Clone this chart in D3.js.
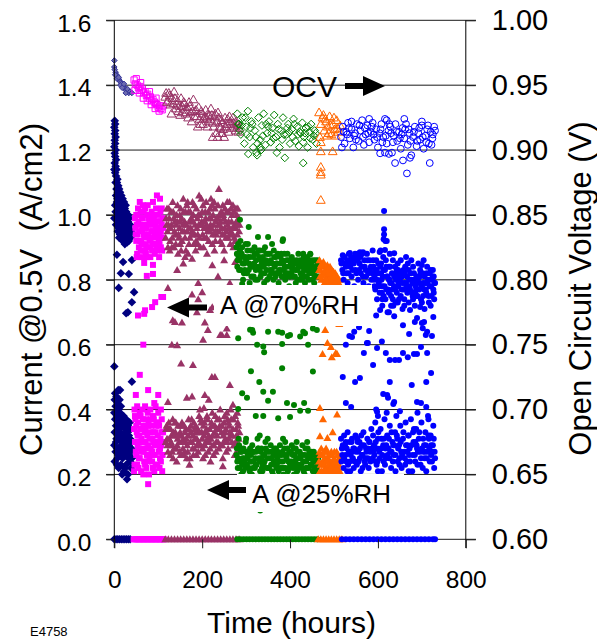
<!DOCTYPE html>
<html>
<head>
<meta charset="utf-8">
<script src="https://cdn.jsdelivr.net/npm/d3@7/dist/d3.min.js"></script>
<style>
  body { margin: 0; background: #fff; }
  svg { display: block; }
  text { font-family: "Liberation Sans", Arial, Helvetica, sans-serif; fill: #000; }
</style>
</head>
<body>
<svg id="chart" width="597" height="639"></svg>
<script>
// ---------------- data: [hours, current A/cm2] and [hours, OCV V] ----------------
const currentTicks = [0, 0.2, 0.4, 0.6, 0.8, 1.0, 1.2, 1.4, 1.6];
const ocvTicks = [0.60, 0.65, 0.70, 0.75, 0.80, 0.85, 0.90, 0.95, 1.00];
const timeTicks = [0, 200, 400, 600, 800];

// segment 1 (navy)
const navyHigh = [[1,1.29],[2,1.28],[0,1.27],[2,1.26],[1,1.25],[3,1.24],[1,1.23],[2,1.22],[0,1.21],[3,1.20],[1,1.19],[2,1.18],[4,1.17],[1,1.16],[3,1.15],[0,1.14],[5,1.14],[2,1.13],[4,1.12],[7,1.11],[3,1.10],[6,1.10],[9,1.09],[5,1.08],[11,1.08],[8,1.07],[13,1.07],[4,1.06],[10,1.06],[16,1.06],[7,1.05],[14,1.05],[19,1.05],[12,1.04],[17,1.04],[22,1.04],[6,1.03],[15,1.03],[20,1.03],[9,1.02],[18,1.02],[24,1.02],[3,1.01],[11,1.01],[21,1.01],[27,1.01],[0,0.99],[14,1.00],[23,1.00],[29,0.99],[8,0.99],[17,0.99],[25,0.98],[12,0.98],[20,0.98],[31,0.98],[15,0.97],[27,0.97],[10,0.96],[22,0.96],[33,0.96],[18,0.95],[29,0.95],[13,0.94],[25,0.94],[35,0.95],[21,0.93],[31,0.93],[16,0.93],[27,0.92],[24,0.91],[33,0.92],[19,0.92],[29,0.915],[6,1.04],[9,1.00],[12,0.96],[15,1.01],[18,0.97],[21,0.99],[24,0.95],[27,0.99],[30,0.96],[33,0.94],[36,0.97],[38,0.95],[34,0.99],[26,1.03],[19,0.94],[11,0.93],[8,0.95],[4,0.97],[2,1.03],[7,1.08],[23,0.925],[28,0.925],[37,0.93],[32,1.00],[16,0.99]];
const navyMid = [[6,0.877],[20,0.855],[40,0.861],[15,0.82],[33,0.818],[10,0.775],[45,0.762],[40,0.731],[31,0.70],[27,0.697],[0,0.533],[40,0.486],[13,0.46]];
const navyLow = [[2,0.45],[5,0.44],[9,0.46],[1,0.43],[7,0.42],[12,0.43],[3,0.41],[10,0.40],[15,0.41],[0,0.39],[6,0.38],[13,0.39],[18,0.38],[2,0.37],[9,0.36],[16,0.37],[22,0.36],[27,0.37],[4,0.35],[11,0.34],[20,0.35],[25,0.34],[30,0.35],[35,0.36],[1,0.33],[8,0.32],[14,0.33],[23,0.32],[28,0.33],[33,0.32],[38,0.34],[5,0.31],[17,0.30],[26,0.31],[31,0.30],[36,0.31],[0,0.29],[10,0.28],[21,0.29],[29,0.28],[34,0.28],[40,0.30],[3,0.27],[13,0.26],[24,0.27],[37,0.27],[7,0.25],[19,0.25],[32,0.25],[1,0.24],[15,0.23],[27,0.23],[36,0.24],[10,0.22],[22,0.21],[31,0.20],[18,0.20],[29,0.185],[25,0.22],[38,0.22],[40,0.25],[6,0.28],[4,0.30],[8,0.39],[12,0.35],[16,0.29],[20,0.32],[24,0.30],[28,0.36],[32,0.29],[36,0.34],[3,0.33],[11,0.31],[19,0.27],[26,0.26],[34,0.26],[39,0.28],[6,0.23],[14,0.28],[21,0.38],[30,0.32],[9,0.26]];
const navyZero = [0,4,8,12,16,20,24,28,32,36];
const navyOcv = [[0,0.969],[0,0.964],[1,0.962],[3,0.960],[5,0.958],[7,0.957],[9,0.955],[11,0.954],[13,0.953],[15,0.952],[17,0.951],[19,0.950],[21,0.949],[23,0.948],[25,0.947],[27,0.946],[29,0.945],[31,0.945],[33,0.944],[2,0.958],[6,0.955],[10,0.956],[14,0.950],[18,0.948],[22,0.951],[26,0.944],[30,0.947],[36,0.945],[40,0.944]];

// segment 2 (magenta)
const magHigh = [[50,1.00],[55,0.98],[60,1.01],[65,0.99],[70,1.02],[75,1.00],[80,0.98],[85,1.01],[90,0.99],[95,1.02],[100,1.00],[105,0.98],[48,0.96],[53,0.94],[58,0.97],[63,0.95],[68,0.93],[73,0.96],[78,0.94],[83,0.97],[88,0.95],[93,0.93],[98,0.96],[103,0.94],[108,0.97],[50,0.92],[56,0.90],[61,0.92],[66,0.89],[71,0.91],[76,0.90],[81,0.92],[86,0.89],[91,0.91],[96,0.90],[101,0.92],[106,0.90],[110,0.93],[52,0.88],[62,0.87],[72,0.88],[82,0.87],[92,0.88],[102,0.87],[97,1.06],[104,1.05],[58,1.04],[76,1.03],[88,1.04],[108,1.02],[64,0.96],[84,0.93],[94,0.97],[54,1.02],[69,0.97],[79,0.99],[99,0.98],[110,0.99],[47,0.99],[60,0.89],[74,0.87],[90,1.00],[106,0.95],[67,1.01],[49,0.94],[51,0.97],[57,0.95],[59,0.92],[63,0.99],[67,0.94],[71,0.96],[73,0.90],[77,0.97],[80,0.93],[83,1.00],[85,0.95],[87,0.91],[89,0.97],[92,0.94],[95,0.91],[97,0.98],[100,0.95],[103,0.91],[105,1.01],[107,0.93],[109,0.89],[111,0.96],[53,1.00],[65,1.03],[75,0.94],[85,0.98],[95,0.96],[105,0.93],[62,0.91],[70,0.89],[82,0.90],[98,0.89]];
const magMid = [[68,0.852],[88,0.846],[74,0.812],[51,0.87],[107,0.747],[93,0.731],[86,0.716],[70,0.706],[54,0.69],[66,0.60],[58,0.507],[49,0.445],[77,0.46],[100,0.445],[91,0.42],[88,0.818],[111,0.747],[68,0.695]];
const magLow = [[46,0.40],[52,0.41],[58,0.39],[64,0.40],[70,0.41],[76,0.39],[82,0.40],[88,0.38],[94,0.41],[100,0.39],[106,0.40],[48,0.37],[54,0.36],[60,0.38],[66,0.35],[72,0.37],[78,0.36],[84,0.35],[90,0.37],[96,0.36],[102,0.35],[108,0.37],[45,0.34],[51,0.33],[57,0.32],[63,0.34],[69,0.33],[75,0.32],[81,0.33],[87,0.31],[93,0.33],[99,0.32],[105,0.31],[111,0.33],[47,0.30],[53,0.29],[59,0.30],[65,0.28],[71,0.30],[77,0.29],[83,0.28],[89,0.30],[95,0.29],[101,0.27],[107,0.29],[50,0.26],[56,0.25],[62,0.27],[68,0.24],[74,0.26],[80,0.25],[86,0.24],[92,0.26],[98,0.23],[104,0.25],[110,0.26],[46,0.23],[55,0.22],[61,0.21],[73,0.22],[79,0.20],[91,0.21],[103,0.22],[109,0.21],[66,0.20],[77,0.17],[45,0.21],[47,0.38],[50,0.35],[53,0.32],[56,0.28],[59,0.34],[62,0.31],[65,0.37],[68,0.30],[71,0.34],[74,0.28],[77,0.35],[80,0.31],[83,0.37],[86,0.27],[89,0.33],[92,0.29],[95,0.35],[98,0.30],[101,0.36],[104,0.28],[107,0.33],[110,0.30],[49,0.27],[58,0.25],[67,0.27],[76,0.24],[85,0.26],[94,0.23],[103,0.27],[52,0.23],[70,0.23],[88,0.22],[106,0.24]];
const magZero = [44,47,50,53,56,59,62,65,68,71,74,77,80,83,86,89,92,95,98,101,104,107,110,113];
const magOcv = [[45,0.954],[48,0.951],[52,0.950],[55,0.948],[58,0.949],[61,0.946],[64,0.947],[67,0.944],[70,0.945],[73,0.942],[76,0.943],[79,0.940],[82,0.941],[85,0.938],[88,0.939],[91,0.937],[94,0.936],[97,0.935],[100,0.933],[103,0.934],[106,0.932],[109,0.931],[47,0.946],[57,0.944],[66,0.940],[75,0.938],[84,0.935],[93,0.932],[102,0.930],[111,0.934],[50,0.955],[60,0.952],[80,0.945],[95,0.940]];

// segment 3 (maroon)
const marHigh = [[118,0.99],[121,0.95],[124,1.02],[127,0.92],[130,0.97],[133,1.04],[136,0.90],[139,0.94],[142,1.00],[145,0.88],[148,0.96],[151,1.02],[154,0.92],[157,1.05],[160,0.98],[163,0.89],[166,0.95],[169,1.01],[172,0.93],[175,0.99],[178,1.04],[181,0.91],[184,0.97],[187,1.02],[190,0.94],[193,1.06],[196,0.90],[199,0.98],[202,1.03],[205,0.93],[208,0.99],[211,0.88],[214,1.01],[217,0.95],[220,1.05],[223,0.91],[226,0.97],[229,1.02],[232,0.94],[235,0.99],[238,1.08],[241,0.92],[244,0.96],[247,1.03],[250,0.89],[253,0.98],[256,1.01],[259,0.93],[262,1.04],[265,0.95],[268,1.00],[271,0.90],[274,0.97],[277,1.02],[280,0.94],[283,0.99],[120,1.02],[126,0.89],[132,0.93],[138,0.98],[144,1.03],[150,0.91],[156,0.97],[162,1.01],[168,0.88],[174,0.96],[180,1.00],[186,0.92],[192,0.97],[198,1.05],[204,0.96],[210,0.93],[216,0.99],[222,1.03],[228,0.89],[234,0.95],[240,1.00],[246,0.94],[252,1.02],[258,0.97],[264,0.91],[270,1.03],[276,0.96],[282,0.91],[123,0.97],[135,0.99],[147,0.93],[159,0.95],[171,0.98],[183,0.94],[195,1.00],[207,1.01],[219,0.97],[231,0.98],[243,1.01],[255,0.95],[267,0.98],[279,1.00],[129,1.01],[141,0.97],[153,0.99],[165,1.03],[177,0.95],[189,0.99],[201,0.94],[213,0.96],[225,1.00],[237,0.97],[249,0.99],[261,0.96],[273,0.93],[285,0.97],[117,0.93],[119,0.97],[122,0.90],[125,0.99],[128,0.96],[131,0.90],[134,1.01],[137,0.95],[140,0.91],[143,0.98],[146,0.94],[149,1.00],[152,0.89],[155,0.95],[158,1.01],[161,0.93],[164,0.97],[167,1.04],[170,0.91],[173,1.01],[176,0.94],[179,0.98],[182,1.03],[185,0.89],[188,0.96],[191,1.00],[194,0.93],[197,0.97],[200,1.01],[203,0.90],[206,0.98],[209,1.04],[212,0.95],[215,0.92],[218,1.02],[221,0.96],[224,0.94],[227,1.04],[230,0.92],[233,0.99],[236,1.03],[239,0.95],[242,0.98],[245,0.91],[248,1.00],[251,0.96],[254,0.93],[257,1.04],[260,0.98],[263,0.94],[266,1.02],[269,0.96],[272,1.01],[275,0.92],[278,0.98],[281,1.02],[284,0.95],[190,0.91],[210,0.97],[230,0.95],[250,0.94],[270,0.94],[150,0.98],[170,0.96],[200,0.97],[220,0.99],[240,0.97],[260,1.01],[280,0.97]];
const marMid = [[143,0.83],[157,0.85],[223,0.845],[191,0.79],[263,0.79],[191,0.74],[223,0.715],[236,0.81],[122,0.775],[177,0.755],[200,0.762],[218,0.707],[188,0.70],[133,0.675],[154,0.668],[206,0.668],[213,0.645],[241,0.63],[256,0.63],[138,0.67],[256,0.65],[202,0.615],[245,0.63],[131,0.60],[143,0.598],[152,0.542],[179,0.537],[222,0.50],[229,0.50],[263,0.476],[165,0.436],[177,0.44],[206,0.445],[215,0.43],[122,0.423],[195,0.40],[204,0.405],[270,0.415],[161,0.87],[177,0.865],[250,0.86],[275,0.855]];
const marLow = [[118,0.34],[121,0.29],[124,0.36],[127,0.26],[130,0.32],[133,0.37],[136,0.28],[139,0.33],[142,0.24],[145,0.35],[148,0.30],[151,0.26],[154,0.36],[157,0.31],[160,0.27],[163,0.34],[166,0.29],[169,0.37],[172,0.25],[175,0.33],[178,0.28],[181,0.36],[184,0.31],[187,0.26],[190,0.34],[193,0.38],[196,0.29],[199,0.33],[202,0.25],[205,0.36],[208,0.30],[211,0.38],[214,0.27],[217,0.34],[220,0.31],[223,0.39],[226,0.26],[229,0.35],[232,0.30],[235,0.37],[238,0.28],[241,0.40],[244,0.33],[247,0.25],[250,0.36],[253,0.31],[256,0.39],[259,0.28],[262,0.35],[265,0.40],[268,0.30],[271,0.37],[274,0.26],[277,0.34],[280,0.39],[283,0.31],[120,0.31],[126,0.34],[132,0.27],[138,0.36],[144,0.31],[150,0.33],[156,0.28],[162,0.30],[168,0.32],[174,0.35],[180,0.26],[186,0.33],[192,0.30],[198,0.36],[204,0.32],[210,0.34],[216,0.30],[222,0.35],[228,0.33],[234,0.32],[240,0.35],[246,0.29],[252,0.33],[258,0.37],[264,0.32],[270,0.34],[276,0.30],[282,0.35],[129,0.30],[141,0.28],[153,0.32],[165,0.25],[177,0.30],[189,0.29],[201,0.28],[213,0.31],[225,0.29],[237,0.34],[249,0.30],[261,0.31],[273,0.29],[285,0.33],[135,0.33],[159,0.35],[183,0.34],[207,0.26],[231,0.27],[255,0.27],[279,0.27],[247,0.225],[171,0.23],[219,0.24],[117,0.30],[119,0.35],[122,0.27],[125,0.31],[128,0.34],[131,0.29],[134,0.25],[137,0.32],[140,0.36],[143,0.29],[146,0.32],[149,0.27],[152,0.35],[155,0.30],[158,0.26],[161,0.33],[164,0.31],[167,0.27],[170,0.34],[173,0.30],[176,0.37],[179,0.32],[182,0.28],[185,0.35],[188,0.31],[191,0.27],[194,0.33],[197,0.37],[200,0.31],[203,0.35],[206,0.29],[209,0.33],[212,0.37],[215,0.32],[218,0.28],[221,0.36],[224,0.32],[227,0.29],[230,0.38],[233,0.34],[236,0.30],[239,0.37],[242,0.29],[245,0.35],[248,0.32],[251,0.38],[254,0.34],[257,0.30],[260,0.36],[263,0.33],[266,0.37],[269,0.32],[272,0.29],[275,0.38],[278,0.32],[281,0.36],[284,0.29]];
const marZero = [116,123,130,137,144,151,158,165,172,179,186,193,200,207,214,221,228,235,242,249,256,263,270,277,284];
const marOcv = [[116,0.941],[120,0.937],[124,0.944],[128,0.935],[132,0.940],[136,0.945],[140,0.932],[144,0.938],[148,0.934],[152,0.940],[156,0.929],[160,0.936],[164,0.931],[168,0.925],[172,0.934],[176,0.922],[180,0.939],[184,0.930],[188,0.926],[192,0.933],[196,0.920],[200,0.928],[204,0.924],[208,0.931],[212,0.918],[216,0.927],[220,0.932],[224,0.921],[228,0.926],[232,0.913],[236,0.929],[240,0.918],[244,0.923],[248,0.916],[252,0.925],[256,0.920],[260,0.914],[264,0.922],[268,0.917],[272,0.921],[276,0.915],[280,0.919],[284,0.917],[130,0.928],[150,0.927],[170,0.937],[190,0.918],[210,0.925],[230,0.928],[250,0.910],[270,0.925],[235,0.910],[224,0.910],[245,0.913],[262,0.926],[118,0.944],[122,0.938],[126,0.942],[134,0.936],[138,0.940],[142,0.935],[146,0.930],[154,0.934],[158,0.937],[162,0.928],[166,0.933],[174,0.929],[178,0.930],[182,0.926],[186,0.931],[194,0.924],[198,0.930],[202,0.920],[206,0.926],[214,0.922],[218,0.924],[222,0.927],[226,0.918],[234,0.922],[238,0.925],[242,0.917],[246,0.921],[254,0.918],[258,0.924],[266,0.920],[274,0.918],[278,0.922],[282,0.914]];

// segment 4 (green)
const greenHigh = [[278,0.90],[281,0.86],[284,0.83],[287,0.92],[290,0.88],[293,0.80],[296,0.85],[299,0.91],[302,0.82],[305,0.87],[308,0.79],[311,0.89],[314,0.84],[317,0.81],[320,0.88],[323,0.86],[326,0.80],[329,0.84],[332,0.89],[335,0.82],[338,0.87],[341,0.79],[344,0.85],[347,0.83],[350,0.88],[353,0.81],[356,0.86],[359,0.91],[362,0.80],[365,0.84],[368,0.87],[371,0.82],[374,0.79],[377,0.85],[380,0.88],[383,0.92],[386,0.83],[389,0.80],[392,0.86],[395,0.82],[398,0.78],[401,0.84],[404,0.87],[407,0.81],[410,0.85],[413,0.79],[416,0.83],[419,0.88],[422,0.80],[425,0.84],[428,0.82],[431,0.87],[434,0.79],[437,0.83],[440,0.85],[443,0.80],[446,0.88],[449,0.82],[452,0.84],[455,0.79],[458,0.86],[461,0.81],[464,0.83],[280,0.84],[286,0.89],[292,0.85],[298,0.87],[304,0.91],[310,0.84],[316,0.87],[322,0.83],[328,0.89],[334,0.86],[340,0.84],[346,0.88],[352,0.85],[358,0.83],[364,0.87],[370,0.85],[376,0.82],[382,0.86],[388,0.84],[394,0.88],[400,0.81],[406,0.84],[412,0.83],[418,0.85],[424,0.82],[430,0.84],[436,0.81],[442,0.83],[448,0.85],[454,0.82],[460,0.84],[283,0.87],[295,0.82],[307,0.85],[319,0.90],[331,0.83],[343,0.90],[355,0.83],[367,0.81],[379,0.83],[391,0.81],[403,0.82],[415,0.86],[427,0.80],[439,0.87],[451,0.80],[463,0.86],[286,0.985],[306,0.963],[327,0.932],[350,0.932],[384,0.925],[430,0.88],[446,0.879],[279,0.88],[282,0.91],[285,0.86],[288,0.83],[291,0.90],[294,0.87],[297,0.83],[300,0.86],[303,0.89],[306,0.83],[309,0.87],[312,0.81],[315,0.89],[318,0.85],[321,0.80],[324,0.88],[327,0.84],[330,0.87],[333,0.81],[336,0.85],[339,0.89],[342,0.82],[345,0.86],[348,0.80],[351,0.85],[354,0.88],[357,0.82],[360,0.85],[363,0.89],[366,0.82],[369,0.85],[372,0.88],[375,0.83],[378,0.87],[381,0.81],[384,0.85],[387,0.88],[390,0.82],[393,0.84],[396,0.86],[399,0.81],[402,0.85],[405,0.83],[408,0.86],[411,0.81],[414,0.85],[417,0.80],[420,0.84],[423,0.86],[426,0.81],[429,0.85],[432,0.83],[435,0.86],[438,0.81],[441,0.84],[444,0.82],[447,0.86],[450,0.83],[453,0.86],[456,0.81],[459,0.83],[462,0.85],[465,0.81]];
const greenMid = [[291,0.787],[314,0.645],[350,0.64],[373,0.64],[400,0.63],[430,0.64],[452,0.65],[282,0.62],[309,0.646],[316,0.637],[382,0.637],[395,0.627],[325,0.60],[339,0.594],[341,0.577],[382,0.602],[311,0.518],[382,0.527],[330,0.485],[291,0.45],[302,0.436],[339,0.455],[361,0.455],[350,0.427],[393,0.42],[409,0.414],[423,0.396],[322,0.38],[339,0.38],[373,0.373],[282,0.402],[452,0.517],[432,0.42],[441,0.396],[400,0.377],[434,0.635],[423,0.625],[461,0.645],[441,0.60],[332,0.089]];
const greenLow = [[278,0.26],[281,0.22],[284,0.29],[287,0.24],[290,0.27],[293,0.21],[296,0.25],[299,0.30],[302,0.23],[305,0.27],[308,0.21],[311,0.26],[314,0.29],[317,0.24],[320,0.22],[323,0.27],[326,0.31],[329,0.25],[332,0.21],[335,0.28],[338,0.23],[341,0.26],[344,0.30],[347,0.22],[350,0.27],[353,0.25],[356,0.29],[359,0.21],[362,0.26],[365,0.23],[368,0.28],[371,0.25],[374,0.21],[377,0.29],[380,0.24],[383,0.27],[386,0.22],[389,0.30],[392,0.25],[395,0.21],[398,0.27],[401,0.24],[404,0.29],[407,0.22],[410,0.26],[413,0.28],[416,0.21],[419,0.25],[422,0.27],[425,0.23],[428,0.29],[431,0.21],[434,0.26],[437,0.24],[440,0.28],[443,0.22],[446,0.25],[449,0.27],[452,0.21],[455,0.24],[458,0.26],[461,0.22],[464,0.25],[280,0.24],[286,0.28],[292,0.25],[298,0.22],[304,0.26],[310,0.24],[316,0.27],[322,0.23],[328,0.28],[334,0.25],[340,0.23],[346,0.27],[352,0.22],[358,0.25],[364,0.28],[370,0.23],[376,0.26],[382,0.22],[388,0.26],[394,0.28],[400,0.23],[406,0.26],[412,0.24],[418,0.22],[424,0.26],[430,0.24],[436,0.22],[442,0.26],[448,0.23],[454,0.27],[460,0.24],[289,0.20],[313,0.20],[337,0.21],[361,0.20],[385,0.20],[409,0.20],[433,0.20],[457,0.21],[300,0.31],[331,0.32],[349,0.31],[384,0.31],[415,0.30],[439,0.30],[283,0.31],[279,0.28],[282,0.25],[285,0.22],[288,0.27],[291,0.23],[294,0.28],[297,0.24],[300,0.27],[303,0.25],[306,0.22],[309,0.28],[312,0.24],[315,0.22],[318,0.27],[321,0.25],[324,0.23],[327,0.28],[330,0.24],[333,0.27],[336,0.22],[339,0.26],[342,0.24],[345,0.28],[348,0.25],[351,0.22],[354,0.27],[357,0.23],[360,0.27],[363,0.24],[366,0.26],[369,0.22],[372,0.27],[375,0.24],[378,0.22],[381,0.26],[384,0.24],[387,0.28],[390,0.22],[393,0.26],[396,0.24],[399,0.22],[402,0.27],[405,0.24],[408,0.28],[411,0.23],[414,0.25],[417,0.27],[420,0.23],[423,0.25],[426,0.22],[429,0.26],[432,0.24],[435,0.28],[438,0.22],[441,0.25],[444,0.27],[447,0.23],[450,0.26],[453,0.24],[456,0.22],[459,0.25],[462,0.23],[465,0.26]];
const greenZero = [280,287,294,301,308,315,322,329,336,343,350,357,364,371,378,385,392,399,406,413,420,427,434,441,448,455,462];
const greenOcv = [[280,0.928],[284,0.920],[288,0.912],[292,0.925],[296,0.905],[300,0.918],[304,0.930],[308,0.910],[312,0.922],[316,0.902],[320,0.915],[324,0.898],[328,0.925],[332,0.908],[336,0.919],[340,0.928],[344,0.904],[348,0.913],[352,0.922],[356,0.906],[360,0.917],[364,0.927],[368,0.910],[372,0.920],[376,0.902],[380,0.915],[384,0.925],[388,0.894],[392,0.912],[396,0.920],[400,0.905],[404,0.916],[408,0.924],[412,0.907],[416,0.918],[420,0.903],[424,0.913],[428,0.921],[432,0.910],[436,0.917],[440,0.902],[444,0.914],[448,0.920],[452,0.908],[456,0.915],[460,0.905],[286,0.915],[298,0.925],[310,0.917],[322,0.910],[334,0.900],[346,0.920],[358,0.913],[370,0.898],[382,0.908],[394,0.917],[406,0.910],[418,0.912],[430,0.906],[442,0.918],[454,0.911],[305,0.897],[325,0.896],[332,0.902],[430,0.890],[282,0.920],[290,0.919],[302,0.912],[314,0.920],[326,0.905],[338,0.911],[350,0.918],[362,0.909],[374,0.916],[386,0.912],[398,0.914],[410,0.920],[422,0.914],[434,0.913],[446,0.909],[458,0.913]];

// segment 5 (orange)
const orHigh = [[467,0.86],[469,0.83],[471,0.80],[473,0.85],[475,0.82],[477,0.84],[479,0.79],[481,0.83],[483,0.81],[485,0.845],[487,0.80],[489,0.82],[491,0.84],[493,0.79],[495,0.83],[497,0.81],[499,0.825],[501,0.80],[503,0.82],[505,0.79],[507,0.81],[509,0.80],[511,0.79],[468,0.81],[474,0.78],[480,0.80],[486,0.78],[492,0.81],[498,0.79],[504,0.78],[510,0.78],[476,0.855],[484,0.83],[490,0.79],[496,0.80],[470,0.845],[472,0.815],[478,0.825],[482,0.80],[488,0.835],[494,0.815],[500,0.81],[506,0.80],[512,0.80],[466,0.83],[486,0.82],[502,0.79]];
const orMid = [[480,0.645],[512,0.664],[485,0.605],[493,0.593],[474,0.571],[495,0.561],[504,0.574],[507,0.571],[468,0.405],[475,0.37],[507,0.385],[468,0.318],[485,0.312],[497,0.33]];
const orLow = [[467,0.27],[470,0.23],[473,0.26],[476,0.21],[479,0.25],[482,0.28],[485,0.22],[488,0.26],[491,0.24],[494,0.27],[497,0.21],[500,0.25],[503,0.23],[506,0.27],[509,0.22],[512,0.25],[468,0.21],[474,0.24],[480,0.22],[486,0.25],[492,0.21],[498,0.24],[504,0.21],[510,0.26],[471,0.28],[483,0.24],[495,0.23],[507,0.24],[477,0.27],[489,0.21],[501,0.27],[513,0.21],[466,0.24],[469,0.26],[472,0.21],[475,0.26],[478,0.23],[481,0.21],[484,0.27],[487,0.23],[490,0.26],[493,0.22],[496,0.26],[499,0.22],[502,0.24],[505,0.22],[508,0.26],[511,0.23],[514,0.25]];
const orZero = [464,470,476,482,488,494,500,506,512,518];
const orOcv = [[466,0.929],[470,0.920],[474,0.925],[478,0.915],[482,0.922],[486,0.918],[490,0.926],[494,0.912],[498,0.920],[502,0.916],[506,0.923],[510,0.914],[514,0.919],[468,0.910],[476,0.927],[484,0.911],[492,0.919],[500,0.925],[508,0.917],[470,0.906],[470,0.899],[497,0.899],[470,0.887],[470,0.883],[470,0.881],[470,0.8615],[480,0.924],[488,0.913],[504,0.911]];

// segment 6 (blue)
const blueHigh = [[516,0.86],[519,0.83],[522,0.80],[525,0.85],[528,0.82],[531,0.79],[534,0.88],[537,0.84],[540,0.81],[543,0.86],[546,0.78],[549,0.83],[552,0.87],[555,0.80],[558,0.85],[561,0.82],[564,0.88],[567,0.79],[570,0.84],[573,0.81],[576,0.86],[579,0.78],[582,0.83],[585,0.80],[520,0.876],[536,0.883],[554,0.88],[559,0.885],[566,0.885],[588,0.89],[590,0.84],[592,0.81],[594,0.77],[596,0.86],[598,0.74],[600,0.82],[602,0.79],[604,0.886],[614,1.012],[614,0.956],[614,0.94],[613,0.925],[617,0.92],[620,0.92],[616,0.892],[637,0.882],[606,0.89],[607,0.85],[608,0.80],[609,0.76],[610,0.72],[612,0.87],[613,0.83],[615,0.78],[617,0.74],[618,0.86],[620,0.81],[622,0.70],[623,0.77],[625,0.84],[627,0.88],[628,0.79],[630,0.75],[632,0.82],[634,0.86],[635,0.72],[637,0.78],[639,0.84],[641,0.80],[643,0.76],[645,0.85],[646,0.83],[648,0.74],[650,0.80],[652,0.86],[654,0.77],[656,0.71],[658,0.83],[660,0.79],[662,0.84],[664,0.87],[666,0.81],[668,0.85],[670,0.73],[672,0.78],[674,0.82],[676,0.86],[678,0.76],[680,0.84],[682,0.80],[684,0.72],[686,0.78],[688,0.81],[690,0.75],[692,0.85],[694,0.79],[696,0.83],[698,0.74],[700,0.846],[702,0.82],[704,0.86],[706,0.71],[708,0.79],[710,0.76],[712,0.84],[714,0.80],[716,0.73],[718,0.78],[720,0.83],[722,0.75],[725,0.83],[726,0.77],[728,0.74],[591,0.80],[597,0.83],[603,0.78],[611,0.81],[619,0.84],[626,0.80],[633,0.77],[640,0.82],[647,0.79],[655,0.81],[663,0.77],[671,0.80],[679,0.79],[687,0.77],[695,0.81],[703,0.79],[711,0.82],[719,0.80],[727,0.81],[729,0.79],[596,0.69],[605,0.707],[625,0.70],[637,0.688],[657,0.66],[671,0.633],[689,0.682],[705,0.67],[723,0.627],[712,0.64],[726,0.685],[696,0.716],[673,0.707],[660,0.72],[645,0.73],[517,0.85],[521,0.82],[524,0.87],[527,0.84],[530,0.86],[533,0.82],[536,0.85],[539,0.87],[542,0.83],[545,0.85],[548,0.88],[551,0.82],[554,0.86],[557,0.83],[560,0.87],[563,0.84],[566,0.81],[569,0.86],[572,0.83],[575,0.88],[578,0.82],[581,0.86],[584,0.84],[587,0.82],[589,0.86],[592,0.78],[595,0.83],[598,0.80],[601,0.85],[604,0.76],[607,0.82],[610,0.78],[613,0.75],[616,0.83],[619,0.77],[622,0.81],[625,0.76],[628,0.84],[631,0.79],[634,0.74],[637,0.81],[640,0.77],[643,0.83],[646,0.78],[649,0.82],[652,0.75],[655,0.79],[658,0.77],[661,0.82],[664,0.79],[667,0.76],[670,0.83],[673,0.77],[676,0.80],[679,0.75],[682,0.82],[685,0.79],[688,0.75],[691,0.80],[694,0.77],[697,0.82],[700,0.78],[703,0.75],[706,0.81],[709,0.77],[712,0.79],[715,0.75],[718,0.82],[721,0.78],[724,0.80],[727,0.76],[730,0.79],[605,0.84],[625,0.80],[645,0.81],[665,0.78],[685,0.76],[705,0.77],[725,0.81],[610,0.74],[640,0.73],[680,0.74],[720,0.72],[700,0.73],[660,0.74],[630,0.72]];
const blueMid = [[684,0.67],[700,0.667],[702,0.651],[541,0.624],[557,0.654],[580,0.642],[527,0.60],[577,0.605],[609,0.61],[568,0.574],[598,0.59],[618,0.574],[627,0.553],[639,0.553],[648,0.553],[657,0.574],[668,0.561],[682,0.571],[689,0.571],[712,0.574],[698,0.593],[589,0.537],[520,0.50],[548,0.485],[559,0.497],[627,0.485],[677,0.476],[710,0.485],[721,0.513],[621,0.445],[612,0.448],[623,0.436],[637,0.423],[635,0.417],[689,0.423],[698,0.42],[710,0.408],[527,0.42],[539,0.408],[596,0.40],[598,0.393],[546,0.64],[535,0.627],[575,0.605],[709,0.63]];
const blueLow = [[516,0.31],[519,0.26],[522,0.22],[525,0.29],[528,0.24],[531,0.33],[534,0.27],[537,0.21],[540,0.30],[543,0.25],[546,0.28],[549,0.32],[552,0.23],[555,0.27],[558,0.30],[561,0.21],[564,0.26],[567,0.33],[570,0.24],[573,0.28],[576,0.31],[579,0.22],[582,0.27],[585,0.34],[588,0.25],[591,0.29],[594,0.36],[597,0.23],[600,0.31],[603,0.27],[606,0.34],[609,0.21],[612,0.29],[615,0.37],[618,0.25],[621,0.32],[624,0.28],[627,0.35],[630,0.22],[633,0.30],[636,0.26],[639,0.33],[642,0.38],[645,0.24],[648,0.29],[651,0.35],[654,0.22],[657,0.31],[660,0.27],[663,0.36],[666,0.24],[669,0.32],[672,0.28],[675,0.37],[678,0.21],[681,0.30],[684,0.26],[687,0.34],[690,0.23],[693,0.31],[696,0.27],[699,0.36],[702,0.22],[705,0.29],[708,0.33],[711,0.25],[714,0.38],[717,0.28],[720,0.32],[723,0.24],[726,0.35],[729,0.27],[518,0.28],[527,0.30],[536,0.24],[545,0.22],[554,0.30],[563,0.29],[572,0.25],[581,0.30],[590,0.27],[599,0.24],[608,0.31],[617,0.28],[626,0.25],[635,0.29],[644,0.31],[653,0.27],[662,0.23],[671,0.26],[680,0.33],[689,0.28],[698,0.25],[707,0.27],[716,0.31],[725,0.29],[523,0.25],[541,0.27],[559,0.25],[577,0.28],[595,0.30],[613,0.24],[631,0.27],[649,0.25],[667,0.29],[685,0.30],[703,0.27],[721,0.26],[530,0.21],[565,0.22],[600,0.21],[640,0.21],[670,0.21],[710,0.21],[728,0.22],[620,0.39],[650,0.395],[690,0.39],[600,0.38],[715,0.37],[517,0.24],[520,0.29],[523,0.32],[526,0.26],[529,0.28],[532,0.23],[535,0.30],[538,0.26],[541,0.31],[544,0.28],[547,0.24],[550,0.27],[553,0.31],[556,0.24],[559,0.28],[562,0.32],[565,0.26],[568,0.29],[571,0.23],[574,0.27],[577,0.25],[580,0.30],[583,0.24],[586,0.28],[589,0.32],[592,0.26],[595,0.24],[598,0.28],[601,0.33],[604,0.25],[607,0.28],[610,0.26],[613,0.31],[616,0.23],[619,0.29],[622,0.26],[625,0.31],[628,0.27],[631,0.33],[634,0.24],[637,0.29],[640,0.26],[643,0.32],[646,0.28],[649,0.23],[652,0.30],[655,0.26],[658,0.33],[661,0.25],[664,0.29],[667,0.27],[670,0.32],[673,0.24],[676,0.29],[679,0.26],[682,0.34],[685,0.24],[688,0.29],[691,0.27],[694,0.33],[697,0.23],[700,0.28],[703,0.31],[706,0.25],[709,0.29],[712,0.27],[715,0.32],[718,0.24],[721,0.29],[724,0.27],[727,0.31],[730,0.25]];
const blueZero = [518,527,536,545,554,563,572,581,590,599,608,617,626,635,644,653,662,671,680,689,698,707,716,725,730];
const blueOcv = [[516,0.910],[520,0.918],[524,0.905],[528,0.914],[532,0.921],[536,0.909],[540,0.916],[544,0.902],[548,0.913],[552,0.920],[556,0.907],[560,0.915],[564,0.923],[568,0.904],[572,0.912],[576,0.919],[580,0.906],[584,0.914],[588,0.921],[592,0.908],[596,0.916],[600,0.902],[604,0.913],[608,0.920],[612,0.910],[616,0.924],[620,0.905],[624,0.915],[628,0.918],[632,0.898],[636,0.911],[640,0.920],[644,0.907],[648,0.914],[652,0.901],[656,0.917],[660,0.909],[664,0.920],[668,0.904],[672,0.913],[676,0.896],[680,0.910],[684,0.918],[688,0.903],[692,0.913],[696,0.908],[700,0.919],[704,0.901],[708,0.911],[712,0.916],[716,0.905],[720,0.914],[724,0.909],[728,0.918],[530,0.912],[550,0.908],[570,0.917],[590,0.912],[610,0.906],[630,0.913],[650,0.909],[670,0.916],[690,0.907],[710,0.906],[725,0.912],[518,0.902],[605,0.8975],[616,0.898],[625,0.897],[639,0.890],[657,0.892],[666,0.882],[673,0.894],[718,0.890],[540,0.922],[580,0.924],[620,0.923],[660,0.924],[700,0.922],[522,0.914],[534,0.917],[546,0.911],[558,0.919],[566,0.910],[578,0.913],[586,0.918],[598,0.910],[606,0.916],[618,0.911],[626,0.920],[634,0.906],[642,0.914],[654,0.912],[662,0.916],[674,0.907],[682,0.914],[694,0.917],[702,0.910],[714,0.919],[722,0.904],[730,0.915]];

// ---------------- series styling ----------------
const segments = [
  { current: [navyHigh, navyMid, navyLow], zero: navyZero, ocv: navyOcv,
    color: "#000080", shape: "diamond", size: 4.3,
    ocvColor: "#333399", ocvShape: "diamond", ocvSize: 2.8, ocvFill: "#6a6ab0" },
  { current: [magHigh, magMid, magLow], zero: magZero, ocv: magOcv,
    color: "#FF00FF", shape: "square", size: 3.0,
    ocvColor: "#FF00FF", ocvShape: "square", ocvSize: 3.1, ocvFill: "none" },
  { current: [marHigh, marMid, marLow], zero: marZero, ocv: marOcv,
    color: "#993366", shape: "triangle", size: 4.0,
    ocvColor: "#993366", ocvShape: "triangle", ocvSize: 4.4, ocvFill: "none" },
  { current: [greenHigh, greenMid, greenLow], zero: greenZero, ocv: greenOcv,
    color: "#008000", shape: "circle", size: 3.0,
    ocvColor: "#008000", ocvShape: "diamond", ocvSize: 3.9, ocvFill: "none" },
  { current: [orHigh, orMid, orLow], zero: orZero, ocv: orOcv,
    color: "#FF6600", shape: "triangle", size: 4.0,
    ocvColor: "#FF6600", ocvShape: "triangle", ocvSize: 4.4, ocvFill: "none" },
  { current: [blueHigh, blueMid, blueLow], zero: blueZero, ocv: blueOcv,
    color: "#0000FF", shape: "circle", size: 3.0,
    ocvColor: "#0000FF", ocvShape: "circle", ocvSize: 3.4, ocvFill: "none" }
];

// ---------------- scales ----------------
const x = d3.scaleLinear().domain([0, 800]).range([114.3, 465.8]);
const yCur = d3.scaleLinear().domain([0, 1.6]).range([539.3, 20.3]);
const yOcv = d3.scaleLinear().domain([0.6, 1.0]).range([539.3, 20.3]);

const svg = d3.select("#chart");

function markerPath(shape, s) {
  switch (shape) {
    case "diamond": return `M0,${-s}L${s},0L0,${s}L${-s},0Z`;
    case "square": return `M${-s},${-s}H${s}V${s}H${-s}Z`;
    case "triangle": return `M0,${-s}L${s},${s * 0.75}L${-s},${s * 0.75}Z`;
    default: return `M${s},0A${s},${s} 0 1,1 ${-s},0A${s},${s} 0 1,1 ${s},0Z`;
  }
}

// ---------------- gridlines ----------------
svg.append("g").selectAll("line").data(currentTicks).join("line")
  .attr("x1", 106).attr("x2", 476)
  .attr("y1", d => yCur(d)).attr("y2", d => yCur(d))
  .attr("stroke", "#1a1a1a").attr("stroke-width", 1);

// ---------------- markers ----------------
const plot = svg.append("g");
segments.forEach(seg => {
  const pts = seg.current.flat().concat(seg.zero.map(t => [t, 0]));
  plot.append("g").selectAll("path").data(pts).join("path")
    .attr("transform", d => `translate(${x(d[0])},${yCur(d[1])})`)
    .attr("d", markerPath(seg.shape, seg.size))
    .attr("fill", seg.color);
});
segments.forEach(seg => {
  plot.append("g").selectAll("path").data(seg.ocv).join("path")
    .attr("transform", d => `translate(${x(d[0])},${yOcv(d[1])})`)
    .attr("d", markerPath(seg.ocvShape, seg.ocvSize))
    .attr("fill", seg.ocvFill)
    .attr("stroke", seg.ocvColor).attr("stroke-width", 1);
});

// ---------------- annotation boxes ----------------
const notes = svg.append("g");
notes.append("rect").attr("x", 214).attr("y", 285).attr("width", 158).attr("height", 41).attr("fill", "#fff");
notes.append("rect").attr("x", 237).attr("y", 474).attr("width", 167).attr("height", 38).attr("fill", "#fff");

function arrow(tipX, cy, tailX, dir) {
  const head = 22, half = 10, shaft = 3;
  const bx = tipX + dir * head;
  return `M${tipX},${cy}L${bx},${cy - half}L${bx},${cy - shaft}L${tailX},${cy - shaft}` +
         `L${tailX},${cy + shaft}L${bx},${cy + shaft}L${bx},${cy + half}Z`;
}
notes.append("path").attr("d", arrow(167, 307.5, 207, 1)).attr("fill", "#000");
notes.append("path").attr("d", arrow(207, 490, 246, 1)).attr("fill", "#000");
notes.append("path").attr("d", arrow(385, 86, 345, -1)).attr("fill", "#000");

notes.append("text").attr("x", 220).attr("y", 314).attr("font-size", 26).text("A @70%RH");
notes.append("text").attr("x", 252).attr("y", 503).attr("font-size", 26).text("A @25%RH");
notes.append("text").attr("x", 272).attr("y", 97).attr("font-size", 30).text("OCV");

// ---------------- axes ----------------
svg.append("line").attr("x1", 114.3).attr("x2", 114.3).attr("y1", 20.3).attr("y2", 548).attr("stroke", "#000");
svg.append("line").attr("x1", 465.8).attr("x2", 465.8).attr("y1", 20.3).attr("y2", 548).attr("stroke", "#000");

const leftAxis = svg.append("g").attr("transform", "translate(114.3,0)")
  .call(d3.axisLeft(yCur).tickValues(currentTicks).tickFormat(d3.format(".1f")).tickSize(8).tickPadding(15).tickSizeOuter(0));
leftAxis.select(".domain").remove();
leftAxis.selectAll("text").attr("font-size", 24.5).attr("dy", "0.44em");

const rightAxis = svg.append("g").attr("transform", "translate(465.8,0)")
  .call(d3.axisRight(yOcv).tickValues(ocvTicks).tickFormat(d3.format(".2f")).tickSize(10).tickPadding(16).tickSizeOuter(0));
rightAxis.select(".domain").remove();
rightAxis.selectAll("text").attr("font-size", 29).attr("dy", "0.32em");

const bottomAxis = svg.append("g").attr("transform", "translate(0,539.3)")
  .call(d3.axisBottom(x).tickValues(timeTicks).tickFormat(d3.format("d")).tickSize(9).tickPadding(22).tickSizeOuter(0));
bottomAxis.select(".domain").remove();
bottomAxis.selectAll("text").attr("font-size", 24.5);

svg.selectAll(".tick line").attr("stroke", "#1a1a1a");
svg.selectAll(".tick text").attr("font-family", "'Liberation Sans', Arial, sans-serif").attr("fill", "#000");

// ---------------- titles ----------------
svg.append("text").attr("x", 291.5).attr("y", 633).attr("text-anchor", "middle")
  .attr("font-size", 30).text("Time (hours)");
svg.append("text").attr("transform", "translate(42,289.5) rotate(-90)")
  .attr("text-anchor", "middle").attr("font-size", 31).style("white-space", "pre")
  .text("Current @0.5V  (A/cm2)");
svg.append("text").attr("transform", "translate(591,288.5) rotate(-90)")
  .attr("text-anchor", "middle").attr("font-size", 31)
  .text("Open Circuit Voltage (V)");
svg.append("text").attr("x", 30).attr("y", 636).attr("font-size", 13).text("E4758");
</script>
</body>
</html>
